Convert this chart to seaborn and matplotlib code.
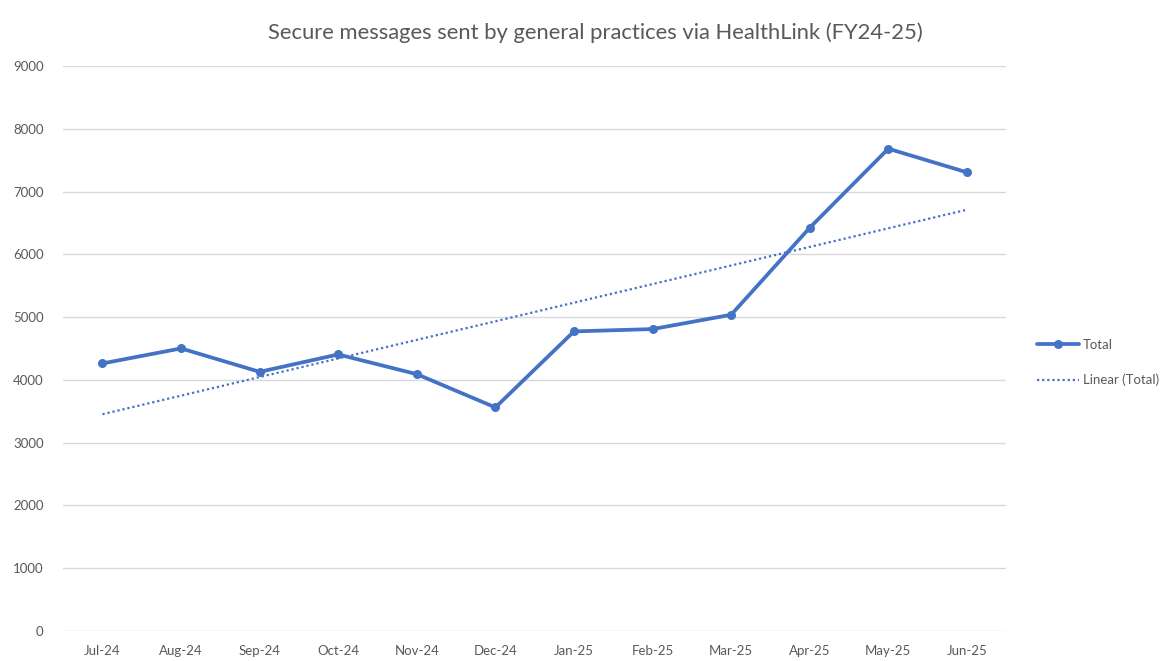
import numpy as np
import pandas as pd
import seaborn as sns
import matplotlib.pyplot as plt

months = ["Jul-24", "Aug-24", "Sep-24", "Oct-24", "Nov-24", "Dec-24",
          "Jan-25", "Feb-25", "Mar-25", "Apr-25", "May-25", "Jun-25"]
totals = [4262, 4501, 4128, 4405, 4091, 3561, 4772, 4809, 5037, 6423, 7682, 7306]
y_ticks = [0, 1000, 2000, 3000, 4000, 5000, 6000, 7000, 8000, 9000]

df = pd.DataFrame({"pos": np.arange(len(months)), "month": months, "total": totals})

sns.set_style("white")
plt.rcParams["font.family"] = ["Lato", "DejaVu Sans"]

fig = plt.figure(figsize=(11.7, 6.61), dpi=100)
ax = fig.add_axes([0.054, 0.0454, 0.806, 0.8548])

blue = "#4472C4"
grey = "#595959"

# trend line (least squares, like Excel's linear trendline)
sns.regplot(data=df, x="pos", y="total", ax=ax, scatter=False, ci=None,
            truncate=True, line_kws={"color": blue, "lw": 1.6, "ls": (0, (1, 1.3)),
                                     "zorder": 2})
trend = ax.lines[-1]
sns.lineplot(data=df, x="pos", y="total", ax=ax, color=blue, lw=2.7,
             marker="o", markersize=6.5, markeredgewidth=0, zorder=3)
main = ax.lines[-1]

ax.set_xlim(-0.5, len(months) - 0.5)
ax.set_ylim(0, 9000)
ax.set_yticks(y_ticks)
ax.set_xticks(df["pos"])
ax.set_xticklabels(months)
ax.set_xlabel("")
ax.set_ylabel("")
ax.yaxis.grid(True, color="#D9D9D9", lw=1)
ax.set_axisbelow(True)
for s in ax.spines.values():
    s.set_visible(False)
ax.tick_params(axis="both", length=0, labelsize=9.5, colors=grey, pad=10)
ax.tick_params(axis="y", pad=14)

fig.text(0.509, 0.951, "Secure messages sent by general practices via HealthLink (FY24-25)",
         ha="center", va="center", fontsize=15.8, color=grey)

leg = ax.legend([main, trend], ["Total", "Linear (Total)"],
                loc="center left", bbox_to_anchor=(1.02, 0.475), frameon=False,
                fontsize=9.5, labelspacing=1.75, handlelength=3.2, handletextpad=0.3)
for t in leg.get_texts():
    t.set_color(grey)

fig.savefig("out.png", dpi=100)
